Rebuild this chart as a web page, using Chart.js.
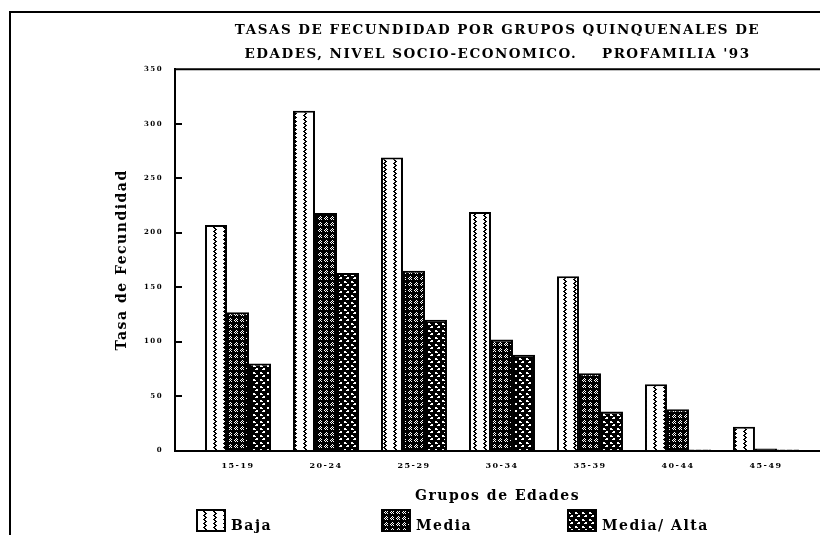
<!DOCTYPE html>
<html><head><meta charset="utf-8">
<script src="https://cdn.jsdelivr.net/npm/chart.js@4/dist/chart.umd.min.js"></script>
<style>html,body{margin:0;padding:0;background:#fff}#wrap{width:820px;height:535px}</style>
</head><body><div id="wrap"><canvas id="c" width="820" height="535"></canvas></div>
<script>
const titleLines = ['TASAS DE FECUNDIDAD POR GRUPOS QUINQUENALES DE', "EDADES, NIVEL SOCIO-ECONOMICO.    PROFAMILIA '93"];
const categories = ['15-19', '20-24', '25-29', '30-34', '35-39', '40-44', '45-49'];
const seriesNames = ['Baja', 'Media', 'Media/ Alta'];
const baja = [207, 312, 269, 219, 160, 61, 22];
const media = [127, 218, 165, 102, 71, 38, 2];
const mediaAlta = [80, 163, 120, 88, 36, 1, 1];
const yTicks = [0, 50, 100, 150, 200, 250, 300, 350];
const yTitle = 'Tasa de Fecundidad';
const xTitle = 'Grupos de Edades';

const FONT = "'DejaVu Serif', serif";
const LS = '1.5px';

function makePattern(kind) {
  const c = document.createElement('canvas');
  const g = c.getContext('2d');
  if (kind === 0) {
    c.width = 10; c.height = 4;
    g.fillStyle = '#fff'; g.fillRect(0, 0, 10, 4);
    g.fillStyle = '#000';
    g.fillRect(4, 0, 2, 1); g.fillRect(5, 1, 2, 1); g.fillRect(4, 2, 2, 1); g.fillRect(3, 3, 2, 1);
  } else if (kind === 1) {
    c.width = 6; c.height = 6;
    g.fillStyle = '#000'; g.fillRect(0, 0, 6, 6);
    g.fillStyle = '#fff';
    g.fillRect(1, 1, 1, 1); g.fillRect(3, 1, 1, 1); g.fillRect(2, 2, 1, 1); g.fillRect(1, 3, 1, 1); g.fillRect(3, 3, 1, 1);
    g.fillRect(2, 0, 1, 1); g.fillRect(0, 2, 1, 1);
  } else {
    c.width = 7; c.height = 7;
    g.fillStyle = '#000'; g.fillRect(0, 0, 7, 7);
    g.fillStyle = '#fff';
    g.fillRect(1, 1, 2, 2); g.fillRect(3, 2, 1, 1);
    g.fillRect(4, 4, 2, 2); g.fillRect(3, 5, 1, 1);
  }
  return g.createPattern(c, 'repeat');
}

const seriesValues = [baja, media, mediaAlta];
const datasets = seriesNames.map((name, s) => ({
  label: name,
  data: categories.map((c, i) => ({ x: i, y: seriesValues[s][i] })),
  backgroundColor: makePattern(s),
  borderColor: '#000',
  borderWidth: 2,
  categoryPercentage: 0.75,
  barPercentage: 1.0
}));

const decor = {
  id: 'decor',
  beforeUpdate(chart) { chart.ctx.letterSpacing = LS; },
  beforeDraw(chart) { chart.ctx.letterSpacing = LS; },
  afterDraw(chart) {
    const { ctx, chartArea: a, scales: { y } } = chart;
    ctx.save();
    ctx.strokeStyle = '#000';
    ctx.lineWidth = 2;
    ctx.beginPath();
    ctx.moveTo(10, chart.height); ctx.lineTo(10, 12); ctx.lineTo(chart.width, 12);
    ctx.moveTo(a.left, a.top); ctx.lineTo(a.right, a.top);
    y.ticks.forEach(t => {
      if (t.value === y.min || t.value === y.max) return;
      const py = Math.round(y.getPixelForValue(t.value));
      ctx.moveTo(a.left, py); ctx.lineTo(a.left + 7, py);
    });
    ctx.stroke();
    // legend
    const lx = [197, 382, 568];
    ctx.font = 'bold 14px ' + FONT;
    ctx.letterSpacing = LS;
    ctx.textBaseline = 'alphabetic';
    chart.data.datasets.forEach((ds, i) => {
      ctx.fillStyle = ds.backgroundColor;
      ctx.fillRect(lx[i], 510, 28, 21);
      ctx.lineWidth = 2;
      ctx.strokeRect(lx[i], 510, 28, 21);
      ctx.fillStyle = '#000';
      ctx.fillText(ds.label, lx[i] + 34, 530);
    });
    ctx.restore();
  }
};

new Chart(document.getElementById('c'), {
  type: 'bar',
  data: { datasets },
  plugins: [decor],
  options: {
    responsive: false,
    animation: false,
    devicePixelRatio: 1,
    layout: { padding: { left: 110, right: 0, top: 0, bottom: 30 } },
    plugins: {
      legend: { display: false },
      tooltip: { enabled: false },
      title: {
        display: true,
        fullSize: false,
        text: titleLines,
        color: '#000',
        font: { family: FONT, size: 13.5, weight: 'bold', lineHeight: 1.75 },
        padding: { top: 19, bottom: 3 }
      }
    },
    scales: {
      x: {
        type: 'linear',
        offset: false,
        min: -0.716,
        max: 6.614,
        grid: { drawOnChartArea: false, drawTicks: false, offset: false },
        border: { display: true, color: '#000', width: 2 },
        ticks: {
          stepSize: 1, includeBounds: false, autoSkip: false, maxRotation: 0,
          padding: 11, color: '#000',
          font: { family: FONT, size: 8, weight: 'bold' },
          callback: (v) => (Number.isInteger(v) && categories[v] !== undefined) ? categories[v] : ''
        },
        title: {
          display: true, text: xTitle, color: '#000',
          font: { family: FONT, size: 14, weight: 'bold' },
          padding: { top: 6, bottom: 0 }
        }
      },
      y: {
        min: 0, max: 350,
        afterBuildTicks: (s) => { s.ticks = yTicks.map(v => ({ value: v })); },
        afterFit: (s) => { s.width = 65; },
        grid: { drawOnChartArea: false, drawTicks: false },
        border: { display: true, color: '#000', width: 2 },
        ticks: { padding: 12, color: '#000', font: { family: FONT, size: 7, weight: 'bold' } },
        title: {
          display: true, text: yTitle, color: '#000',
          font: { family: FONT, size: 14, weight: 'bold' },
          padding: { top: 4, bottom: 4 }
        }
      }
    }
  }
});
</script>
</body></html>
